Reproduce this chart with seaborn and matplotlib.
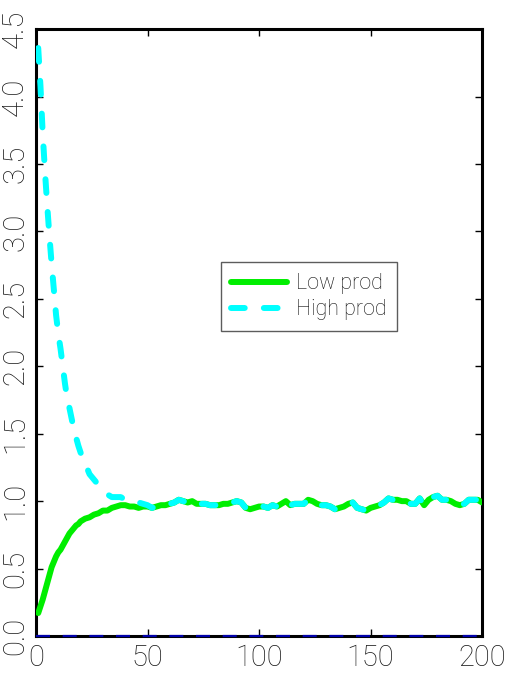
import matplotlib
matplotlib.use("Agg")
import matplotlib.pyplot as plt
import numpy as np
import pandas as pd
import seaborn as sns

# Time steps: every step up to 20, then every second step
steps = list(range(1, 21)) + list(range(22, 201, 2))

low_prod = [
    0.17, 0.22, 0.27, 0.33, 0.39, 0.45, 0.51, 0.55, 0.59, 0.62,
    0.64, 0.67, 0.70, 0.73, 0.76, 0.78, 0.80, 0.82, 0.83, 0.85,
    0.87, 0.88, 0.90, 0.91, 0.93, 0.93, 0.95, 0.96, 0.97, 0.97,
    0.96, 0.96, 0.95, 0.96, 0.96, 0.95, 0.96, 0.97, 0.97, 0.98,
    0.99, 1.01, 1.00, 0.99, 1.00, 0.98, 0.98, 0.98, 0.97, 0.97,
    0.97, 0.98, 0.98, 0.99, 1.00, 0.99, 0.95, 0.94, 0.95, 0.96,
    0.96, 0.95, 0.97, 0.96, 0.98, 1.00, 0.97, 0.98, 0.98, 0.98,
    1.01, 1.00, 0.98, 0.97, 0.97, 0.96, 0.94, 0.95, 0.96, 0.98,
    0.99, 0.95, 0.94, 0.93, 0.95, 0.96, 0.97, 0.99, 1.02, 1.01,
    1.01, 1.00, 1.00, 0.98, 0.98, 1.02, 0.97, 1.01, 1.03, 1.04,
    1.01, 1.01, 1.00, 0.98, 0.97, 0.98, 1.01, 1.01, 1.01, 0.99,
]

high_prod = [
    4.36, 4.08, 3.73, 3.45, 3.20, 2.97, 2.76, 2.57, 2.38, 2.24,
    2.13, 2.00, 1.87, 1.76, 1.69, 1.61, 1.53, 1.47, 1.41, 1.36,
    1.28, 1.20, 1.16, 1.12, 1.08, 1.05, 1.03, 1.03, 1.03, 1.01,
    1.00, 1.00, 0.99, 0.98, 0.97, 0.95, 0.96, 0.97, 0.97, 0.98,
    0.99, 1.01, 1.00, 0.99, 1.00, 0.98, 0.98, 0.98, 0.97, 0.97,
    0.97, 0.98, 0.98, 0.99, 1.00, 0.99, 0.95, 0.94, 0.95, 0.96,
    0.96, 0.95, 0.97, 0.96, 0.98, 1.00, 0.97, 0.98, 0.98, 0.98,
    1.01, 1.00, 0.98, 0.97, 0.97, 0.96, 0.94, 0.95, 0.96, 0.98,
    0.99, 0.95, 0.94, 0.93, 0.95, 0.96, 0.97, 0.99, 1.02, 1.01,
    1.01, 1.00, 1.00, 0.98, 0.98, 1.02, 0.97, 1.01, 1.03, 1.04,
    1.01, 1.01, 1.00, 0.98, 0.97, 0.98, 1.01, 1.01, 1.01, 0.99,
]

baseline_x = [0, 200]
baseline_y = [0.0, 0.0]

x_ticks = [0, 50, 100, 150, 200]
y_ticks = [0.0, 0.5, 1.0, 1.5, 2.0, 2.5, 3.0, 3.5, 4.0, 4.5]
y_tick_labels = ["0.0", "0.5", "1.0", "1.5", "2.0", "2.5", "3.0", "3.5", "4.0", "4.5"]

sns.set_theme(style="white")
plt.rcParams["font.family"] = ["Roboto", "DejaVu Sans"]
plt.rcParams["font.weight"] = "light"

fig = plt.figure(figsize=(5.07, 6.75), dpi=100)
ax = fig.add_axes([0.071, 0.0578, 0.880, 0.899])

df = pd.DataFrame({"step": steps, "low": low_prod, "high": high_prod})

sns.lineplot(data=df, x="step", y="low", ax=ax, color="#00ee00", lw=4.3,
             solid_capstyle="round", label="Low prod", zorder=3)
sns.lineplot(data=df, x="step", y="high", ax=ax, color="#00ffff", lw=4.3,
             dash_capstyle="round", label="High prod", zorder=4)
ax.lines[-1].set_dashes((2.3, 3.2))

sns.lineplot(x=baseline_x, y=baseline_y, ax=ax, color="#0000aa", lw=1.6,
             zorder=5, legend=False)
ax.lines[-1].set_dashes((6.3, 5.7))
ax.lines[-1].set_clip_on(False)

ax.set_xlim(0, 200)
ax.set_ylim(0, 4.5)
ax.set_xticks(x_ticks)
ax.set_xticklabels([str(t) for t in x_ticks])
ax.set_yticks(y_ticks)
ax.set_yticklabels(y_tick_labels, rotation=90, va="center")
ax.set_xlabel("")
ax.set_ylabel("")

for side in ["left", "right", "top", "bottom"]:
    ax.spines[side].set_visible(True)
    ax.spines[side].set_color("black")
    ax.spines[side].set_linewidth(2.2)

ax.tick_params(axis="both", which="major", direction="in", length=5, width=1,
               color="black", top=True, right=True, bottom=True, left=True,
               labelsize=21, labelcolor="#1a1a1a", pad=6)
ax.tick_params(axis="y", pad=5)

leg = ax.legend(loc="center", bbox_to_anchor=(0.612, 0.559),
                prop={"family": ["Roboto", "DejaVu Sans"], "weight": "light", "size": 15.5},
                frameon=True, fancybox=False, handlelength=2.6,
                handletextpad=0.4, borderpad=0.5, labelspacing=0.25,
                borderaxespad=0)
for txt in leg.get_texts():
    txt.set_color("#111111")
leg.get_frame().set_edgecolor("#333333")
leg.get_frame().set_linewidth(1.0)

fig.savefig("out.png", dpi=100, facecolor="white")
